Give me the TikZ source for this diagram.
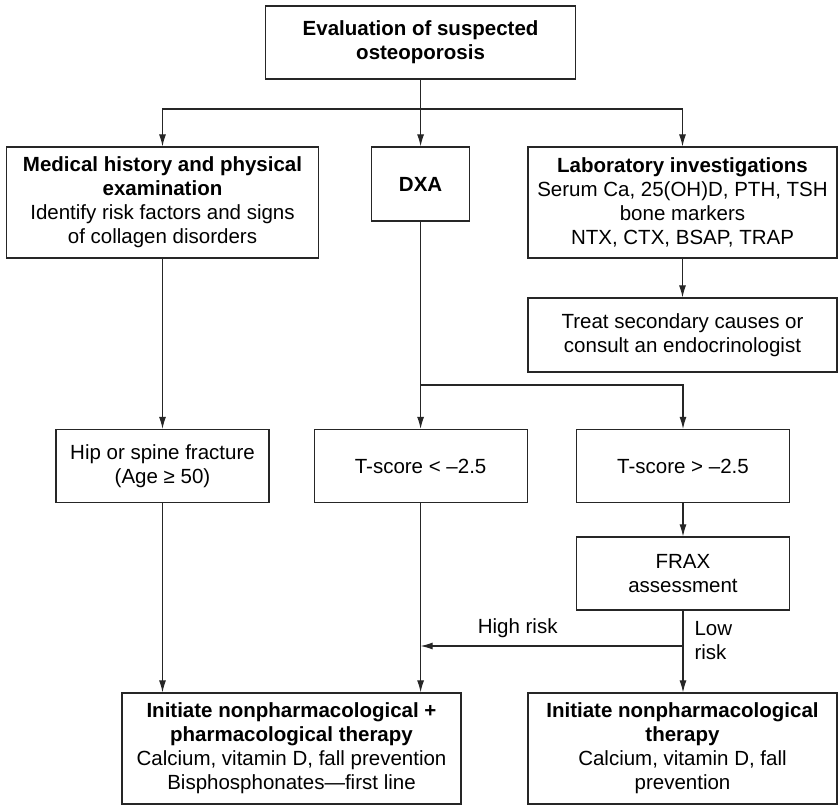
\documentclass[tikz,border=0pt]{standalone}
\usepackage{fontspec}
\setmainfont{Liberation Sans}
\usetikzlibrary{arrows.meta}
\begin{document}
\begin{tikzpicture}[x=1pt,y=-1pt,
  txt/.style={font=\fontsize{20.5}{24}\selectfont},
  box/.style={txt, draw=black!85, line width=1.2pt, align=center, inner sep=0pt},
  ln/.style={draw=black!85, line width=1.1pt},
  arr/.style={ln, -{Latex[length=12pt,width=7pt]}},
  lbl/.style={txt, inner sep=0pt}]
\useasboundingbox (0,0) rectangle (838,805);

\node[box, minimum width=310pt, minimum height=73pt] (top) at (420.6,42.5)
  {\textbf{Evaluation of suspected}\\\textbf{osteoporosis}};
\node[box, minimum width=312pt, minimum height=111pt] (med) at (162.5,202.5)
  {\textbf{Medical history and physical}\\\textbf{examination}\\Identify risk factors and signs\\of collagen disorders};
\node[box, minimum width=97.5pt, minimum height=74pt] (dxa) at (420.6,184)
  {\textbf{DXA}};
\node[box, minimum width=309pt, minimum height=111pt] (lab) at (682.5,202.5)
  {\textbf{Laboratory investigations}\\Serum Ca, 25(OH)D, PTH, TSH\\bone markers\\NTX, CTX, BSAP, TRAP};
\node[box, minimum width=309pt, minimum height=74pt] (treat) at (682.5,335)
  {Treat secondary causes or\\consult an endocrinologist};
\node[box, minimum width=213pt, minimum height=73pt] (hip) at (162.5,466)
  {Hip or spine fracture\\(Age ≥ 50)};
\node[box, minimum width=213pt, minimum height=73pt] (tl) at (420.6,466)
  {T-score < –2.5};
\node[box, minimum width=213pt, minimum height=73pt] (tg) at (683,466)
  {T-score > –2.5};
\node[box, minimum width=213pt, minimum height=73pt] (frax) at (683,573.5)
  {FRAX\\assessment};
\node[box, minimum width=339pt, minimum height=111pt] (finl) at (291.5,748.5)
  {\textbf{Initiate nonpharmacological +}\\\textbf{pharmacological therapy}\\Calcium, vitamin D, fall prevention\\Bisphosphonates—first line};
\node[box, minimum width=309pt, minimum height=111pt] (finr) at (682.5,748.5)
  {\textbf{Initiate nonpharmacological}\\\textbf{therapy}\\Calcium, vitamin D, fall\\prevention};

\coordinate (split) at (420.6,109);
\draw[ln] (top.south) -- (split);
\draw[arr] (split) -| (med.north);
\draw[arr] (split) -- (dxa.north);
\draw[arr] (split) -| (lab.north);
\draw[arr] (lab.south) -- (treat.north);

\draw[arr] (dxa.south) -- (tl.north);
\coordinate (split2) at (420.6,385);
\draw[arr] (split2) -| (tg.north);

\draw[arr] (med.south) -- (hip.north);
\draw[arr] (hip.south) -- (hip.south |- finl.north);
\draw[arr] (tl.south) -- (tl.south |- finl.north);
\draw[arr] (tg.south) -- (frax.north);
\draw[arr] (frax.south) -- (frax.south |- finr.north)
  node[lbl, pos=0.37, right=11pt, align=left] {Low\\risk};
\coordinate (hr) at (683,646);
\draw[arr] (hr) -- (hr -| tl.south)
  node[lbl, pos=0.63, above=8pt] {High risk};
\end{tikzpicture}
\end{document}
